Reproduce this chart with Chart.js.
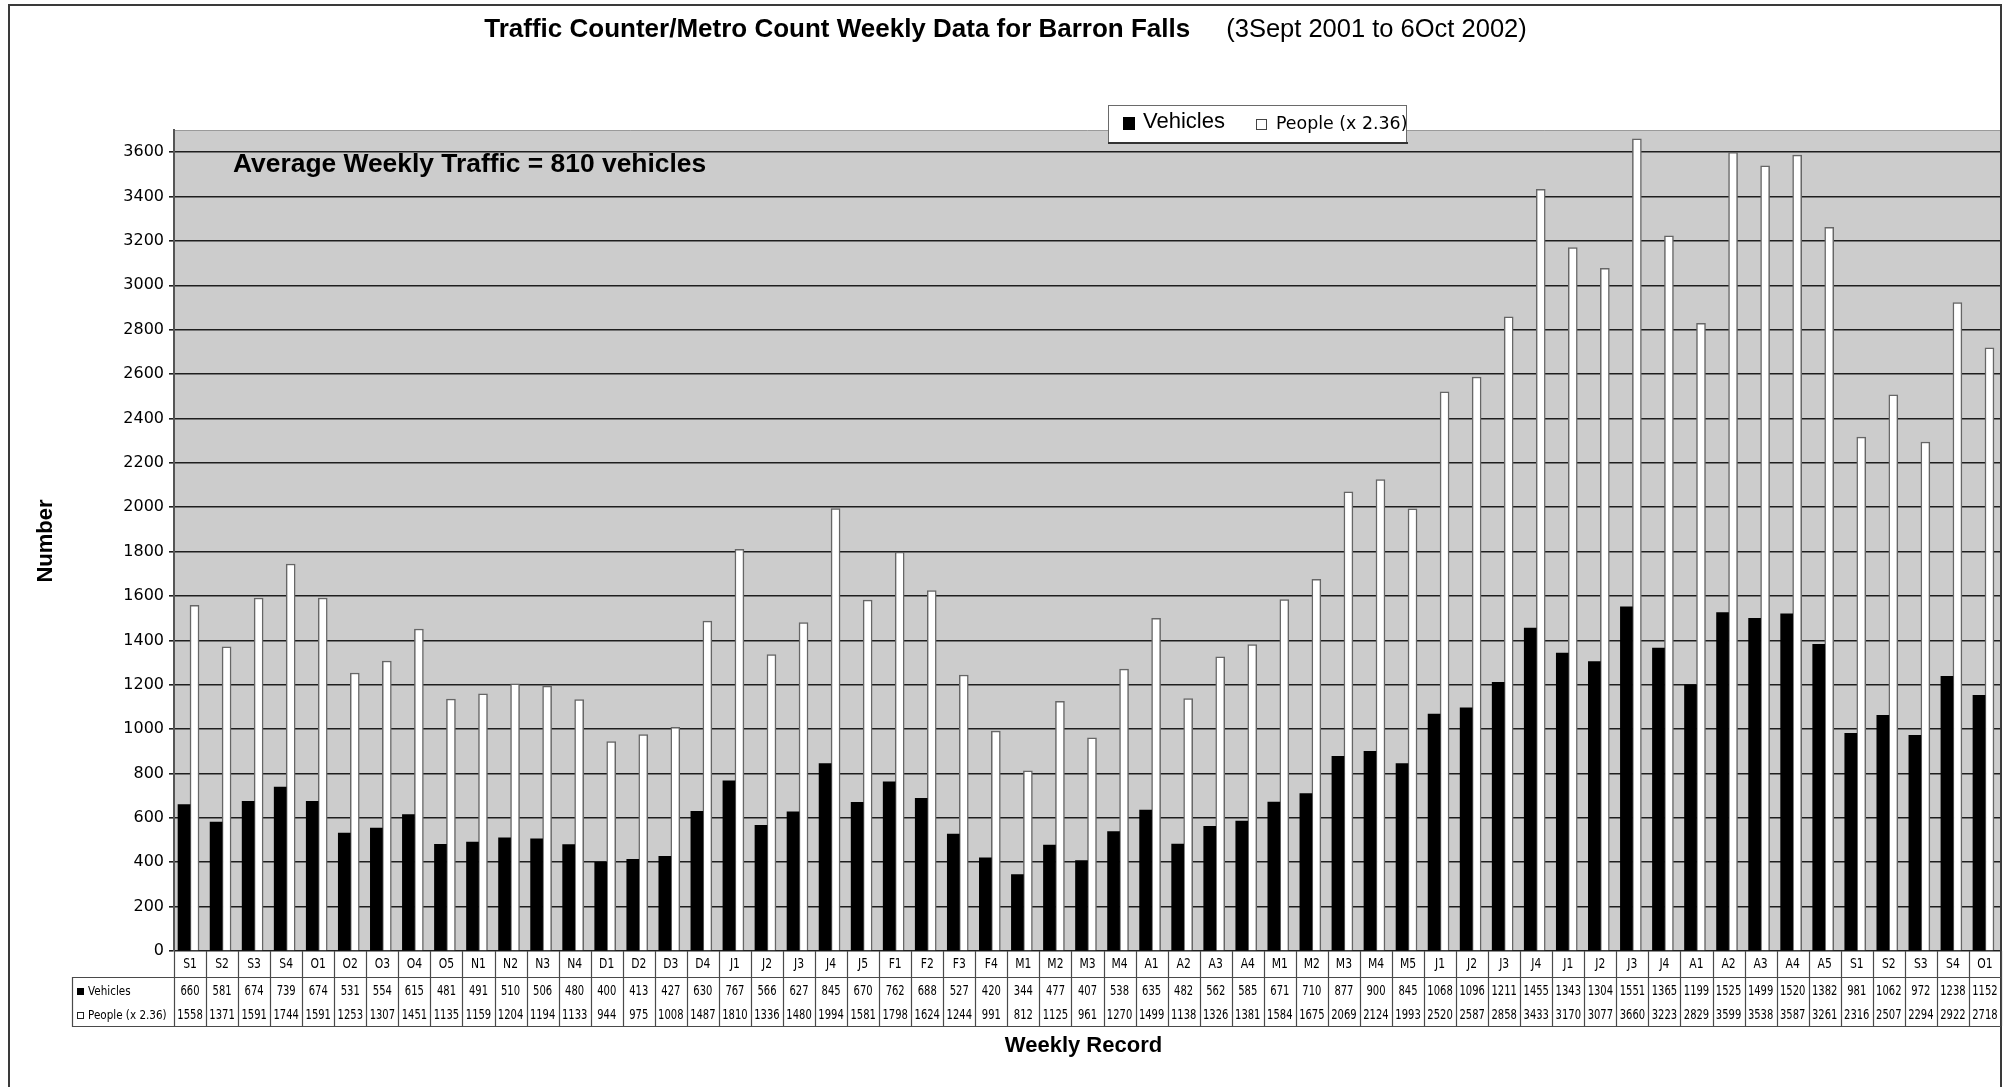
<!DOCTYPE html>
<html>
<head>
<meta charset="utf-8">
<title>Barron Falls weekly traffic</title>
<script src="https://cdn.jsdelivr.net/npm/chart.js@4/dist/chart.umd.min.js"></script>
<style>
  html, body { margin: 0; padding: 0; background: #ffffff; overflow: hidden; }
  #wrap { width: 2009px; height: 1087px; position: relative; }
  canvas { display: block; }
</style>
</head>
<body>
<div id="wrap"><canvas id="chart" width="2009" height="1087"></canvas></div>
<script>
// Week codes (month initial + week number), 3 Sept 2001 to 6 Oct 2002
const weeks = [
  'S1','S2','S3','S4','O1','O2','O3','O4','O5','N1','N2','N3','N4',
  'D1','D2','D3','D4','J1','J2','J3','J4','J5','F1','F2','F3','F4',
  'M1','M2','M3','M4','A1','A2','A3','A4','M1','M2','M3','M4','M5',
  'J1','J2','J3','J4','J1','J2','J3','J4','A1','A2','A3','A4','A5',
  'S1','S2','S3','S4','O1'
];

// Vehicle counts per week
const vehicles = [
  660, 581, 674, 739, 674, 531, 554, 615, 481, 491, 510, 506, 480,
  400, 413, 427, 630, 767, 566, 627, 845, 670, 762, 688, 527, 420,
  344, 477, 407, 538, 635, 482, 562, 585, 671, 710, 877, 900, 845,
  1068, 1096, 1211, 1455, 1343, 1304, 1551, 1365, 1199, 1525, 1499, 1520, 1382,
  981, 1062, 972, 1238, 1152
];

// Estimated people per week (vehicles x 2.36)
const people = [
  1558, 1371, 1591, 1744, 1591, 1253, 1307, 1451, 1135, 1159, 1204, 1194, 1133,
  944, 975, 1008, 1487, 1810, 1336, 1480, 1994, 1581, 1798, 1624, 1244, 991,
  812, 1125, 961, 1270, 1499, 1138, 1326, 1381, 1584, 1675, 2069, 2124, 1993,
  2520, 2587, 2858, 3433, 3170, 3077, 3660, 3223, 2829, 3599, 3538, 3587, 3261,
  2316, 2507, 2294, 2922, 2718
];

const seriesNames = ['Vehicles', 'People (x 2.36)'];
const averageWeekly = 810;
const yMin = 0, yMax = 3700, yStep = 200, yLastLabel = 3600;

const titleBold = 'Traffic Counter/Metro Count Weekly Data for Barron Falls';
const titleRange = '(3Sept 2001 to 6Oct 2002)';
const yTitle = 'Number';
const xTitle = 'Weekly Record';

const SANS = '"Liberation Sans", Arial, Helvetica, sans-serif';
const LUCIDA = '"DejaVu Sans", Verdana, sans-serif';

// Draw text squeezed horizontally (the table uses a narrow face)
function narrowText(ctx, text, x, y, align, sx) {
  ctx.save();
  ctx.translate(x, y);
  ctx.scale(sx, 1);
  ctx.textAlign = align;
  ctx.fillText(text, 0, 0);
  ctx.restore();
}

// Page background and the grey plot field
const backdrop = {
  id: 'backdrop',
  beforeDraw(chart) {
    const { ctx, chartArea: a } = chart;
    ctx.save();
    ctx.fillStyle = '#ffffff';
    ctx.fillRect(0, 0, chart.width, chart.height);
    ctx.fillStyle = '#cccccc';
    ctx.fillRect(a.left, a.top, a.right - a.left, a.bottom - a.top);
    ctx.strokeStyle = '#9a9a9a';
    ctx.lineWidth = 1;
    ctx.beginPath();
    ctx.moveTo(a.left, a.top + 0.5);
    ctx.lineTo(a.right, a.top + 0.5);
    ctx.stroke();
    ctx.restore();
  }
};

// Titles, note, legend and the data table beneath the axis
const annotations = {
  id: 'annotations',
  afterDraw(chart) {
    const { ctx, chartArea: a } = chart;
    const xs = chart.scales.x;
    ctx.save();

    // outer frame
    ctx.strokeStyle = '#3a3a3a';
    ctx.lineWidth = 2;
    ctx.strokeRect(9, 5, 1992, 1200);

    // chart title: bold name + plain date range
    ctx.fillStyle = '#000';
    ctx.textBaseline = 'alphabetic';
    ctx.font = 'bold 26px ' + SANS;
    const wb = ctx.measureText(titleBold).width;
    ctx.font = '25.5px ' + SANS;
    const wr = ctx.measureText(titleRange).width;
    const gap = 36;
    const tx = 1005.5 - (wb + gap + wr) / 2;
    ctx.font = 'bold 26px ' + SANS;
    ctx.textAlign = 'left';
    ctx.fillText(titleBold, tx, 37);
    ctx.font = '25.5px ' + SANS;
    ctx.fillText(titleRange, tx + wb + gap, 37);

    // average note inside the plot
    ctx.font = 'bold 26.4px ' + SANS;
    ctx.fillText('Average Weekly Traffic = ' + averageWeekly + ' vehicles', 233, 172);

    // axis titles
    ctx.font = 'bold 22px ' + SANS;
    ctx.textAlign = 'center';
    ctx.textBaseline = 'middle';
    ctx.fillText(xTitle, (a.left + a.right) / 2 - 4, 1046);
    ctx.save();
    ctx.translate(46, 541);
    ctx.rotate(-Math.PI / 2);
    ctx.fillText(yTitle, 0, 0);
    ctx.restore();

    // legend box
    const ds = chart.data.datasets;
    ctx.fillStyle = '#ffffff';
    ctx.fillRect(1108, 105, 299, 38);
    ctx.fillStyle = ds[0].backgroundColor;
    ctx.fillRect(1123, 117, 12, 13);
    ctx.fillStyle = '#000';
    ctx.textAlign = 'left';
    ctx.textBaseline = 'alphabetic';
    ctx.font = '22px ' + SANS;
    ctx.fillText(ds[0].label, 1143, 128);
    ctx.fillStyle = '#ffffff';
    ctx.fillRect(1256.5, 119.5, 10, 10);
    ctx.strokeStyle = '#444';
    ctx.lineWidth = 1;
    ctx.strokeRect(1256.5, 119.5, 10, 10);
    ctx.fillStyle = '#000';
    ctx.font = '17.4px ' + LUCIDA;
    ctx.fillText(ds[1].label, 1276, 129);
    ctx.strokeStyle = '#6a6a6a';
    ctx.lineWidth = 1;
    ctx.strokeRect(1108.5, 105.5, 298, 37);
    ctx.strokeStyle = '#333';
    ctx.lineWidth = 2;
    ctx.beginPath();
    ctx.moveTo(1108, 143); ctx.lineTo(1408, 143);
    ctx.stroke();

    // data table
    const n = weeks.length;
    const cw = (a.right - a.left) / n;
    const y0 = a.bottom, y1 = 977, y3 = 1026;
    const tableLeft = 72;
    ctx.strokeStyle = '#4a4a4a';
    ctx.lineWidth = 1.2;
    ctx.beginPath();
    for (let i = 0; i <= n; i++) {
      const x = Math.round(xs.getPixelForValue(Math.min(i, n - 1)) + (i === n ? cw / 2 : -cw / 2)) + 0.5;
      ctx.moveTo(x, y0);
      ctx.lineTo(x, y3);
    }
    ctx.moveTo(tableLeft, y1 + 0.5); ctx.lineTo(a.right, y1 + 0.5);
    ctx.moveTo(tableLeft, y3 + 0.5); ctx.lineTo(a.right, y3 + 0.5);
    ctx.moveTo(tableLeft + 0.5, y1); ctx.lineTo(tableLeft + 0.5, y3 + 1);
    ctx.stroke();

    ctx.fillStyle = '#000';
    ctx.font = '13.5px ' + LUCIDA;
    ctx.textBaseline = 'middle';
    const rowsData = [ds[0].data, ds[1].data];
    for (let i = 0; i < n; i++) {
      const cx = xs.getPixelForValue(i);
      narrowText(ctx, weeks[i], cx, 964, 'center', 0.8);
      narrowText(ctx, String(rowsData[0][i]), cx, 991, 'center', 0.74);
      narrowText(ctx, String(rowsData[1][i]), cx, 1015, 'center', 0.74);
    }

    // row headers with series keys
    ctx.font = '13px ' + LUCIDA;
    ctx.fillStyle = '#000';
    ctx.fillRect(77, 988, 7, 7);
    narrowText(ctx, ds[0].label, 88, 992, 'left', 0.8);
    ctx.fillStyle = '#fff';
    ctx.fillRect(77.5, 1012.5, 6, 6);
    ctx.strokeStyle = '#222';
    ctx.lineWidth = 1;
    ctx.strokeRect(77.5, 1012.5, 6, 6);
    ctx.fillStyle = '#000';
    narrowText(ctx, ds[1].label, 88, 1016, 'left', 0.8);

    ctx.restore();
  }
};

new Chart(document.getElementById('chart'), {
  type: 'bar',
  data: {
    labels: weeks,
    datasets: [
      {
        label: seriesNames[0],
        data: vehicles,
        backgroundColor: '#000000',
        borderWidth: 0,
        barThickness: 12
      },
      {
        label: seriesNames[1],
        data: people,
        backgroundColor: '#ffffff',
        borderColor: '#666666',
        borderWidth: 1.5,
        barThickness: 9
      }
    ]
  },
  options: {
    responsive: false,
    animation: false,
    devicePixelRatio: 1,
    layout: { padding: { top: 130, right: 8, left: 0, bottom: 0 } },
    plugins: {
      legend: { display: false },
      title: { display: false },
      tooltip: { enabled: false }
    },
    scales: {
      x: {
        grid: { display: false },
        border: { display: false },
        ticks: { display: false },
        afterFit(scale) { scale.height = 136; }
      },
      y: {
        min: yMin,
        max: yMax,
        ticks: {
          stepSize: yStep,
          padding: 5,
          color: '#000',
          font: { family: 'DejaVu Sans', size: 16 },
          callback: (v) => (v > yLastLabel ? null : v)
        },
        grid: { color: '#1e1e1e', lineWidth: 1.6, tickLength: 5 },
        border: { display: true, color: '#555555', width: 2 },
        afterFit(scale) { scale.width = 174; }
      }
    }
  },
  plugins: [backdrop, annotations]
});
</script>
</body>
</html>
